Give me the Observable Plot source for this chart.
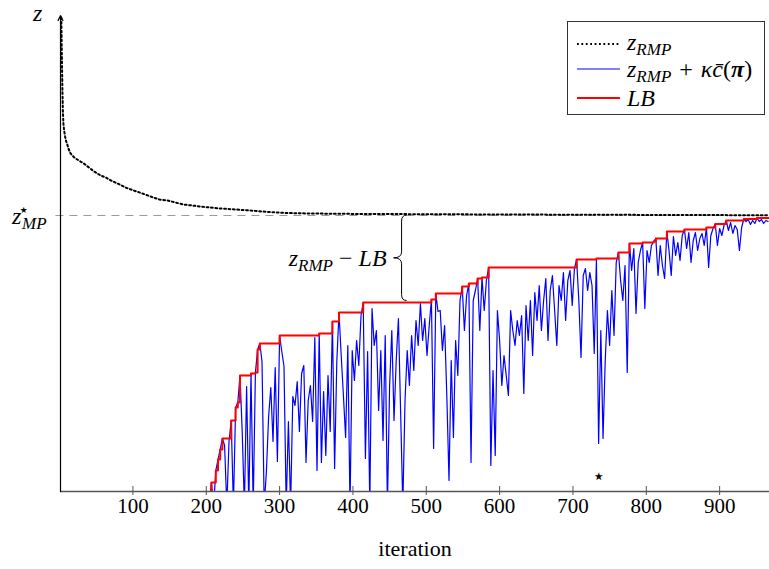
<!DOCTYPE html>
<html><head><meta charset="utf-8">
<script src="https://cdn.jsdelivr.net/npm/d3@7"></script>
<script src="https://cdn.jsdelivr.net/npm/@observablehq/plot@0.6"></script>
<style>body{margin:0;background:#fff} #chart{position:relative;width:769px;height:569px} svg text{font-family:"Liberation Serif","Times New Roman",Times,Tinos,"Noto Serif","DejaVu Serif",FreeSerif,serif !important;}</style>
</head><body><div id="chart"></div>
<script>
// ---------- data ----------
const xTicks = [100, 200, 300, 400, 500, 600, 700, 800, 900];
const zStar = 276;               // z*_MP level
const starIter = 735;            // iteration marked with a star
const braceIter = 467;           // where the gap z_RMP - LB is annotated

// z_RMP (dotted)
const zRmpIter = [2.3, 2.8, 3.3, 3.9, 4.5, 5.2, 6, 7.5, 9, 10.5, 12.5, 15, 20, 26, 33, 40, 47, 56, 63, 70, 79, 90, 101, 113, 124, 136, 147, 158, 169, 181, 192, 205, 220, 240, 260, 285, 310, 340, 400, 500, 600, 700, 800, 900, 968];
const zRmpVal  = [474, 450, 425, 400, 380, 368, 362, 355, 350, 347, 342, 338, 334, 331, 328, 324, 320, 316, 314, 311, 308, 304, 301, 298, 295, 292, 291, 289, 287, 286, 285, 284, 283, 282, 281, 279.5, 278.5, 278, 277.6, 277.3, 277, 276.8, 276.6, 276.4, 276.2];

// LB (red, step function)
const lbIter = [207, 207, 213, 216, 219, 222, 234, 240, 243, 246, 261, 267, 270, 273, 300, 354, 372, 381, 414, 507, 513, 549, 558, 570, 576, 585, 705, 732, 762, 777, 795, 810, 813, 828, 852, 882, 894, 909, 933, 951, 968];
const lbVal  = [-15, 9, 21, 32, 42, 53, 71, 84, 89, 116, 118, 119, 142, 148, 156, 158, 170, 179, 189, 192, 198, 205, 208, 213, 214, 224, 232, 233, 239, 248, 249, 250, 253, 260, 262, 264, 267.5, 271, 272.5, 273.5, 273.5];

// z_RMP + kappa*cbar(pi) (blue), sampled every 3 iterations from 204
const blueStart = 204, blueStep = 3;
const blueVal = [-15,
 9, -15, 21, 32, 42, 53, 46, -15, 50, 71, -15, 84, 89, 116,
 60, -15, 105, -15, 118, -15, 119, 142, 148, 130, -15, 20, 75, 104, 50, 124, 30, 156,
 140, 125, -15, 70, -15, 95, 86, 110, 60, 118, 126, 29, 91, 106, 70, 154, 21, 158,
 29, 100, 36, 116, 60, 170, 23, 130, 179, 136, 96, 54, 146, -15, 141, 111, 151, 126,
 176, 189, 33, 140, -15, 183, 146, 161, 81, 141, 51, 156, -15, 106, 161, 71, 131, 173,
 80, -15, 91, 141, 106, 156, 121, 171, 146, 188, 151, 173, 136, 166, 192, 43, 198, 180,
 181, 141, 166, 96, 11, 131, 54, 151, 116, 191, 205, 161, 196, 208, 29, 191, 201, 213,
 161, 214, 181, 211, 224, 26, 121, 36, 181, 151, 106, 136, 116, 96, 181, 161, 146, 171,
 156, 176, 98, 186, 151, 191, 136, 199, 171, 206, 161, 191, 213, 151, 201, 216, 181, 146,
 206, 191, 219, 171, 211, 221, 186, 223, 232, 191, 134, 216, 223, 201, 219, 206, 138, 233,
 48, 161, 53, 131, 181, 146, 201, 156, 229, 239, 211, 191, 226, 119, 248, 221, 243, 178,
 229, 241, 249, 183, 241, 229, 246, 250, 253, 216, 246, 226, 213, 260, 241, 216, 255, 236,
 249, 231, 256, 262, 243, 259, 229, 251, 259, 241, 253, 258, 246, 264, 224, 256, 263, 267.5,
 246, 263, 256, 266, 271, 261, 269, 258, 266, 262, 241, 264, 272.5, 270, 272, 267, 271, 268, 273.5, 270, 272, 268, 271, 270];

// ---------- build ----------
const W = 769, H = 569;
const xDomain = [1.23, 968];
const yDomain = [0, 476];
const FONT = "Liberation Serif";

const zRmp = zRmpIter.map((x, i) => ({x, y: zRmpVal[i]}));
const lb = lbIter.map((x, i) => ({x, y: lbVal[i]}));
const blue = blueVal.map((y, i) => ({x: blueStart + blueStep * i, y}));

const plot = Plot.plot({
  width: W, height: H,
  marginLeft: 60, marginRight: 0, marginTop: 15, marginBottom: 78,
  x: {domain: xDomain, axis: null},
  y: {domain: yDomain, axis: null},
  style: {fontSize: "21px", background: "white", overflow: "visible"},
  marks: [
    Plot.ruleY([zStar], {x1: -5, x2: xDomain[1], stroke: "#9a9a9a", strokeWidth: 1, strokeDasharray: "8,6"}),
    Plot.line(zRmp, {x: "x", y: "y", stroke: "black", strokeWidth: 2, strokeDasharray: "1.8,2.6"}),
    Plot.line(blue, {x: "x", y: "y", stroke: "#0000ff", strokeWidth: 1.2, clip: true}),
    Plot.line(lb, {x: "x", y: "y", stroke: "#ff0000", strokeWidth: 2, curve: "step-after", clip: true}),
    Plot.ruleY([0], {stroke: "#555", strokeWidth: 1.6}),
    Plot.ruleX(xTicks, {x: d => d, y1: -4, y2: 5, stroke: "#555", strokeWidth: 1}),
    Plot.arrow([0], {x1: xDomain[0], x2: xDomain[0], y1: 0, y2: yDomain[1], stroke: "black", strokeWidth: 1.2, headLength: 7, headAngle: 50}),
    Plot.text(xTicks, {x: d => d, frameAnchor: "bottom", dy: 21, text: d => String(d), fontSize: 21, fill: "black"}),
    Plot.text(["iteration"], {frameAnchor: "bottom", dy: 64, text: d => d, fontSize: 22, fill: "black"}),
    Plot.text([starIter], {x: d => d, frameAnchor: "bottom", dy: -12, text: () => "\u2605", fontSize: 11, fill: "black"})
  ]
});

document.getElementById("chart").appendChild(plot);

const sx = plot.scale("x").apply, sy = plot.scale("y").apply;
const svg = d3.select(plot);
const g = svg.append("g");

function math(x, y, parts, size, anchor) {
  const t = g.append("text").attr("x", x).attr("y", y)
    .attr("font-size", size)
    .attr("text-anchor", anchor || "start").attr("fill", "black");
  for (const p of parts) {
    const s = t.append("tspan").text(p.t);
    if (p.i) s.attr("font-style", "italic");
    if (p.b) s.attr("font-weight", "bold");
    if (p.s) s.attr("font-size", p.s);
    if (p.dy) s.attr("dy", p.dy);
    if (p.dx) s.attr("dx", p.dx);
    if (p.x != null) s.attr("x", p.x);
  }
  return t;
}

// y-axis labels
math(33, 21, [{t: "z", i: 1}], 24);
math(12, 224, [{t: "z", i: 1}], 24);
math(20, 213, [{t: "\u2605"}], 9);
math(22, 229, [{t: "MP", i: 1}], 17);

// brace annotation
const zAt = d3.scaleLinear(zRmpIter, zRmpVal)(braceIter);
let lbAt = lbVal[0];
lbIter.forEach((it, i) => { if (it <= braceIter) lbAt = lbVal[i]; });
const bx = sx(braceIter);
const yTop = sy(zAt) + 1.5, yBot = sy(lbAt) - 1.5, yMid = (yTop + yBot) / 2;
g.append("path")
  .attr("d", `M${bx + 5},${yTop} Q${bx},${yTop} ${bx},${yTop + 6} L${bx},${yMid - 6} Q${bx},${yMid} ${bx - 8},${yMid} Q${bx},${yMid} ${bx},${yMid + 6} L${bx},${yBot - 6} Q${bx},${yBot} ${bx + 5},${yBot}`)
  .attr("fill", "none").attr("stroke", "black").attr("stroke-width", 1);
math(bx - 15, yMid + 8, [{t: "z", i: 1}, {t: "RMP", i: 1, s: 17, dy: 5}, {t: " \u2212 ", dy: -5}, {t: "LB", i: 1}], 24, "end");

// legend
const L = {x: 567.5, y: 21.5, w: 197, h: 93};
g.append("rect").attr("x", L.x).attr("y", L.y).attr("width", L.w).attr("height", L.h)
  .attr("fill", "white").attr("stroke", "#333").attr("stroke-width", 1);
const rows = [
  {ly: 44, ty: 50, stroke: "black", w: 2, dash: "1.8,2.6",
   parts: [{t: "z", i: 1}, {t: "RMP", i: 1, s: 17, dy: 5}]},
  {ly: 69, ty: 77, stroke: "#0000ff", w: 1.2, dash: null,
   parts: [{t: "z", i: 1}, {t: "RMP", i: 1, s: 17, dy: 5}, {t: " + ", dy: -5, dx: 2}, {t: "\u03BA", i: 1, dx: 2}, {t: "c\u0304", i: 1}, {t: "("}, {t: "\u03C0", i: 1, b: 1}, {t: ")"}]},
  {ly: 98, ty: 106, stroke: "#ff0000", w: 2, dash: null,
   parts: [{t: "LB", i: 1}]}
];
for (const r of rows) {
  const ln = g.append("line").attr("x1", 577).attr("x2", 620).attr("y1", r.ly).attr("y2", r.ly)
    .attr("stroke", r.stroke).attr("stroke-width", r.w);
  if (r.dash) ln.attr("stroke-dasharray", r.dash);
  math(627, r.ty, r.parts, 24);
}
</script>
</body></html>
